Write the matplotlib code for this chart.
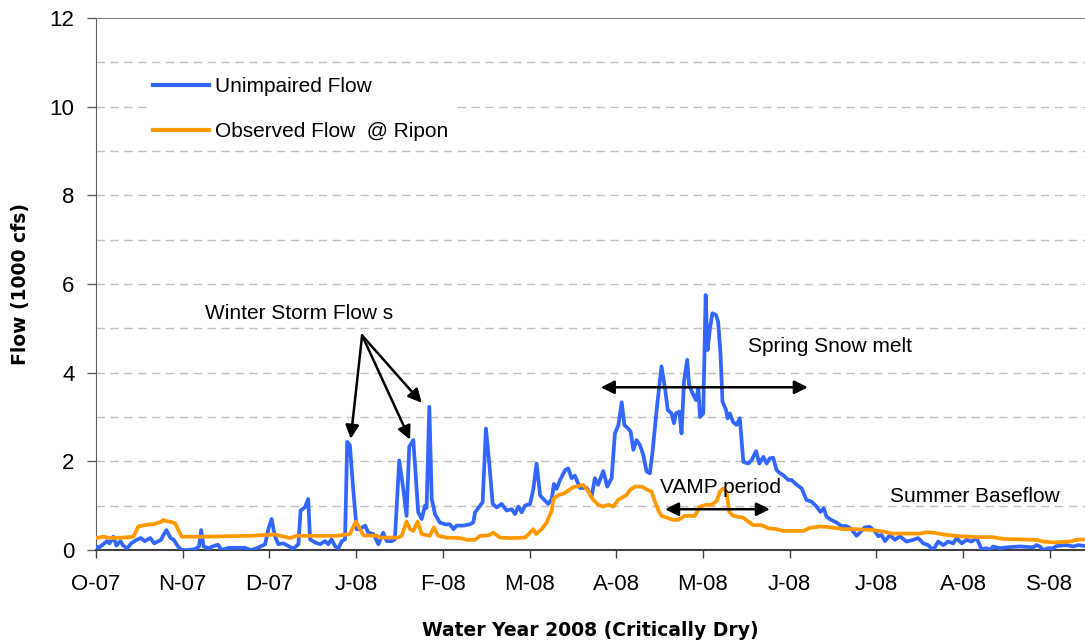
import numpy as np
import matplotlib
matplotlib.use('Agg')
import matplotlib.pyplot as plt

plt.rcParams['font.family'] = ['Liberation Sans', 'DejaVu Sans']

# Daily flows, water year 2008 (day 0 = 1 Oct 2007), in 1000 cfs
unimpaired_day = [
    0, 1, 2.5, 4, 5, 6.4, 7.5, 9, 10, 11.5, 13, 15, 16.5, 18, 20, 21.5, 24, 25, 26, 27.5,
    28.7, 30, 31.5, 34, 36.5, 38, 38.8, 39.7, 41.5, 43, 45, 46.3, 49, 55, 57, 59,
    62.4, 63.6, 64.8, 66.0, 67.3, 69.1, 71.0, 72.8, 74.7, 75.5, 77.1, 78.3, 79.0, 80.8,
    82.7, 84.5, 85.7, 86.9, 88.2, 89.4, 90.7, 91.9, 92.7, 93.7, 94.9, 96.2, 97.4, 99.3,
    100.5, 102.4, 104.2, 106.0, 107.3, 109.1, 110.3, 111.9, 113.4, 114.6, 115.6, 117.1,
    118.9, 120.2, 121.4, 122.0, 123.0, 123.9, 125.1, 126.9, 128.8, 130.6, 131.9, 133.1,
    135.6, 138.0, 139.2, 139.9, 141.7, 142.7, 143.9, 145.1, 146.4, 147.9, 149.7, 151.5,
    153.4, 154.6, 155.9, 157.1, 158.3, 160.2, 161.4, 162.6, 163.9, 165.1, 166.9, 168.2,
    169.0, 170.0, 171.2, 173.1, 174.3, 175.5, 176.7, 178.6, 181.1, 182.9, 184.1, 185.3,
    187.2, 188.7, 190.3, 191.5, 192.8, 194.0, 195.0, 196.4, 197.3, 198.3, 199.5, 200.7,
    202.0, 203.2, 204.4, 205.4, 206.9, 208.7, 210.0, 211.0, 212.4, 213.3, 214.0, 215.3,
    216.1, 217.0, 218.2, 218.9, 220.2, 221.4, 222.3, 222.9, 224.1, 225.0, 225.7, 226.6,
    227.5, 228.8, 229.6, 230.5, 231.2, 232.5, 233.1, 233.9, 235.1, 236.4, 237.6, 238.9,
    240.7, 242.0, 243.6, 244.8, 246.3, 247.5, 248.7, 249.9, 251.2, 252.4, 253.6, 255.5,
    256.7, 258.6, 260.4, 262.2, 264.1, 265.9, 267.4, 268.6, 269.6, 271.0, 273.3, 275.1,
    277.0, 278.8, 280.7, 282.5, 283.7, 285.6, 287.5, 288.7, 289.9, 291.2, 293.0, 294.8,
    296.7, 299.1, 301.6, 303.4, 305.3, 307.1, 309.0, 310.8, 312.7, 314.5, 316.4, 317.6,
    319.5, 321.3, 323.1, 325.0, 326.8, 328.7, 329.9, 331.1, 333.6, 336.0, 340.9, 345.9,
    347.1, 348.3, 349.6, 351.4, 353.3, 354.5, 358.2, 360.7, 362.5, 365.0,
]
unimpaired_kcfs = [
    0.08, 0.05, 0.12, 0.2, 0.15, 0.3, 0.1, 0.2, 0.1, 0.04, 0.15, 0.23, 0.27, 0.2, 0.27, 0.15, 0.23, 0.35, 0.45, 0.27,
    0.23, 0.1, 0.0, 0.0, 0.02, 0.08, 0.45, 0.08, 0.04, 0.08, 0.12, 0.0, 0.05, 0.05, 0.0, 0.03,
    0.13, 0.47, 0.7, 0.32, 0.13, 0.15, 0.09, 0.03, 0.13, 0.89, 0.96, 1.15, 0.24, 0.17,
    0.13, 0.2, 0.13, 0.24, 0.09, 0.03, 0.2, 0.24, 2.44, 2.36, 1.38, 0.47, 0.47, 0.55,
    0.39, 0.36, 0.13, 0.39, 0.2, 0.2, 0.24, 2.02, 1.38, 0.77, 2.33, 2.48,
    0.85, 0.7, 1.0, 0.95, 3.23, 1.15, 0.81, 0.62, 0.58, 0.58, 0.47, 0.55,
    0.55, 0.58, 0.62, 0.85, 1.0, 1.08, 2.74, 1.98, 1.04, 0.96, 1.04, 0.89,
    0.92, 0.81, 0.98, 0.85, 1.0, 1.04, 1.38, 1.95, 1.23, 1.15, 1.04, 1.15,
    1.49, 1.38, 1.57, 1.8, 1.84, 1.62, 1.68, 1.4, 1.4, 1.2, 1.62, 1.47,
    1.78, 1.43, 1.62, 2.63, 2.82, 3.33, 2.82, 2.74, 2.67, 2.26, 2.48, 2.37,
    2.14, 1.77, 1.73, 2.22, 3.16, 4.14, 3.65, 3.16, 3.08, 2.86, 3.08, 3.12,
    2.63, 3.8, 4.29, 3.72, 3.53, 3.38, 3.65, 3.0, 3.08, 5.75, 4.51, 5.0,
    5.34, 5.3, 5.15, 4.4, 3.35, 3.16, 2.97, 3.08, 2.89, 2.82, 2.97, 1.99,
    1.95, 2.03, 2.23, 1.95, 2.1, 1.95, 2.07, 2.08, 1.8, 1.73, 1.69, 1.58,
    1.58, 1.47, 1.39, 1.13, 1.09, 0.98, 0.86, 0.94, 0.75, 0.69, 0.62, 0.54,
    0.54, 0.47, 0.32, 0.43, 0.51, 0.52, 0.42, 0.31, 0.34, 0.2, 0.34, 0.23,
    0.31, 0.19, 0.23, 0.27, 0.15, 0.11, 0.0, 0.19, 0.11, 0.19, 0.15, 0.27,
    0.15, 0.23, 0.19, 0.27, 0.02, 0.04, 0.0, 0.08, 0.04, 0.06, 0.08, 0.06,
    0.11, 0.08, 0.0, 0.04, 0.04, 0.09, 0.11, 0.08, 0.11, 0.09,
]

observed_day = [
    0, 2.7, 5, 10.1, 13.8, 15.6, 18.7, 21.2, 24.2, 24.8, 26.1, 27.9, 29.2, 31.6, 40,
    56.8, 66.1, 68, 71.6, 74, 88.8, 93.7, 95.9, 98.7, 103.6, 104.8, 111.5, 112.8, 114.6,
    115.9, 117.1, 118.7, 120.2, 123.2, 124.7, 126.3, 129.4, 134.3, 136.8, 139.9, 141.7,
    144.8, 146.6, 149.1, 152.8, 158.3, 160.2, 161.4, 162.4, 164.5, 166.3, 168.2, 168.8,
    170.6, 172.5, 174.3, 176.2, 177.4, 179.8, 181.7, 183.5, 185.4, 187.2, 189.1, 190.9,
    192.7, 194.6, 195.8, 197.0, 198.9, 201.4, 203.8, 205.0, 206.3, 207.5, 208.7, 210.6,
    213.0, 214.9, 217.3, 221.0, 222.9, 225.3, 227.2, 229.0, 230.3, 231.5, 232.7, 233.7,
    235.2, 237.0, 238.9, 240.7, 242.6, 245.7, 248.1, 251.2, 253.6, 261.0, 263.5, 267.2,
    270.0, 275.8, 280.0, 286.8, 291.0, 294.0, 304.0, 306.5, 309.0, 313.9, 318.9, 325.0,
    331.0, 334.7, 341.0, 347.0, 349.6, 353.3, 359.4, 361.9, 365.0,
]
observed_kcfs = [
    0.27, 0.3, 0.27, 0.28, 0.3, 0.53, 0.57, 0.58, 0.64, 0.68, 0.65, 0.63, 0.6, 0.3, 0.3,
    0.32, 0.35, 0.32, 0.27, 0.32, 0.32, 0.36, 0.64, 0.33, 0.32, 0.28, 0.28, 0.32, 0.64,
    0.47, 0.43, 0.64, 0.36, 0.32, 0.51, 0.32, 0.28, 0.27, 0.23, 0.23, 0.32,
    0.33, 0.39, 0.28, 0.27, 0.28, 0.39, 0.47, 0.36, 0.47, 0.62, 0.89, 1.15,
    1.24, 1.27, 1.34, 1.42, 1.43, 1.47, 1.32, 1.13, 1.02, 0.98, 1.02, 0.98,
    1.13, 1.2, 1.24, 1.35, 1.43, 1.43, 1.35, 1.32, 1.09, 0.9, 0.77, 0.73,
    0.68, 0.68, 0.77, 0.77, 0.98, 1.02, 1.02, 1.1, 1.32, 1.39, 1.32, 0.86,
    0.77, 0.75, 0.73, 0.64, 0.56, 0.56, 0.49, 0.47, 0.43, 0.43, 0.5, 0.53,
    0.52, 0.47, 0.47, 0.45, 0.41, 0.37, 0.37, 0.4, 0.39, 0.34, 0.31, 0.29,
    0.29, 0.25, 0.24, 0.23, 0.19, 0.17, 0.19, 0.23, 0.24,
]

month_labels = ['O-07', 'N-07', 'D-07', 'J-08', 'F-08', 'M-08',
                'A-08', 'M-08', 'J-08', 'J-08', 'A-08', 'S-08']

BLUE = '#3366ff'
ORANGE = '#ff9900'

fig = plt.figure(figsize=(10.85, 6.42), dpi=100)
ax = fig.add_axes([0.0885, 0.1433, 0.9115, 0.8287])

ax.plot(unimpaired_day, unimpaired_kcfs, color=BLUE, lw=2.7, label='Unimpaired Flow',
        solid_joinstyle='round', zorder=3)
ax.plot(observed_day, observed_kcfs, color=ORANGE, lw=2.7, label='Observed Flow  @ Ripon',
        solid_joinstyle='round', zorder=4)

ax.set_xlim(0, 365)
ax.set_ylim(0, 12)

# category-style axis: one tick every 32 days
ax.set_xticks(np.arange(len(month_labels)) * 32)
ax.set_xticklabels(month_labels)
ax.set_yticks(np.arange(0, 13, 2))

ax.tick_params(axis='x', direction='out', length=6, width=1,
               color='#404040', labelsize=16, pad=11)
ax.tick_params(axis='y', direction='out', length=6.5, width=1,
               color='#606060', labelsize=16, pad=9)

for y in range(1, 12):
    ax.axhline(y, color='#c0c0c0', lw=1, ls=(0, (6, 4)), zorder=1)

ax.spines['right'].set_visible(False)
ax.spines['top'].set_color('#808080')
ax.spines['left'].set_color('#606060')
ax.spines['bottom'].set_color('#404040')
ax.spines['bottom'].set_linewidth(1.5)

ax.set_xlabel('Water Year 2008 (Critically Dry)', family='DejaVu Sans',
              fontweight='bold', fontsize=13.5, labelpad=19)
ax.set_ylabel('Flow (1000 cfs)', family='DejaVu Sans',
              fontweight='bold', fontsize=13.5, labelpad=14)

leg = ax.legend(loc='upper left', bbox_to_anchor=(0.0515, 0.90), fontsize=15,
                frameon=True, fancybox=False, borderpad=0.3, borderaxespad=0,
                handlelength=2.7, handletextpad=0.25, labelspacing=1.25)
leg.get_frame().set_edgecolor('none')
leg.get_frame().set_facecolor('white')
leg.get_frame().set_alpha(1)
for line in leg.get_lines():
    line.set_linewidth(3)

txt = dict(fontsize=15, color='black', ha='left', va='center', zorder=6)
ax.text(40.2, 5.34, 'Winter Storm Flow s', **txt)
ax.text(240.6, 4.6, 'Spring Snow melt', **txt)
ax.text(208.1, 1.40, 'VAMP period', **txt)
ax.text(293.0, 1.20, 'Summer Baseflow', **txt)

one_way = dict(arrowstyle='-|>', color='black', lw=1.8, mutation_scale=20,
               shrinkA=0, shrinkB=0)
for tip in [(94.0, 2.51), (115.9, 2.49), (120.2, 3.32)]:
    ax.annotate('', xy=tip, xytext=(98.2, 4.84), arrowprops=one_way, zorder=6)

two_way = dict(arrowstyle='<|-|>', color='black', lw=1.8, mutation_scale=20,
               shrinkA=0, shrinkB=0)
ax.annotate('', xy=(186.3, 3.67), xytext=(262.7, 3.67), arrowprops=two_way, zorder=6)
ax.annotate('', xy=(210.0, 0.92), xytext=(248.7, 0.92), arrowprops=two_way, zorder=6)

fig.savefig('out.png', dpi=100)
